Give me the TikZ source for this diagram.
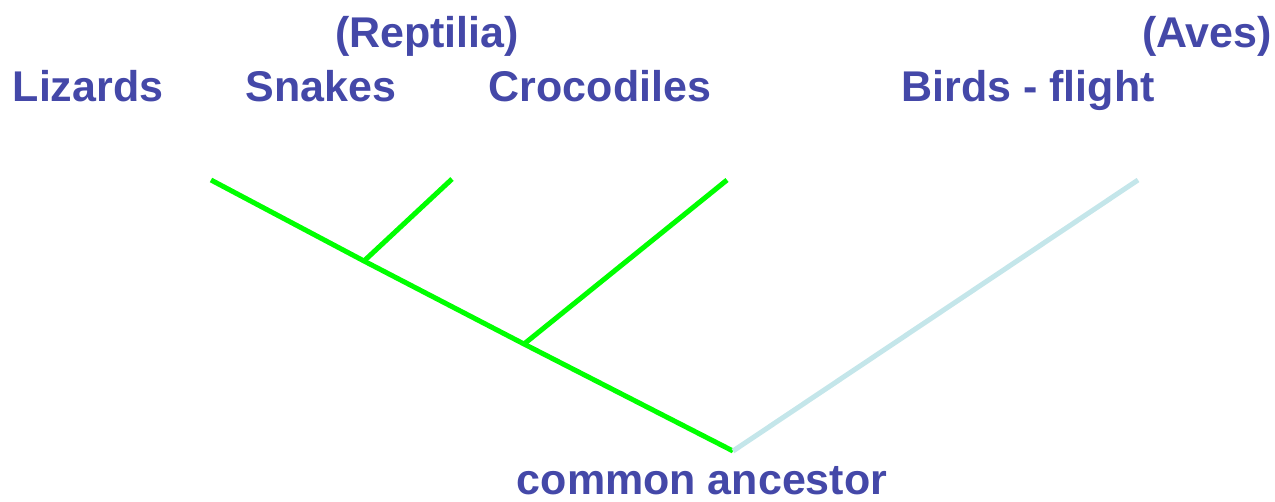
\documentclass[tikz,border=0pt]{standalone}
\usepackage{fontspec}
\setmainfont{Liberation Sans}
\definecolor{labelblue}{HTML}{4448A8}
\definecolor{branchgreen}{HTML}{00FF00}
\definecolor{birdblue}{HTML}{C4E6EA}
\begin{document}
\begin{tikzpicture}[x=1pt,y=-1pt,
  lbl/.style={inner sep=0pt,anchor=base,text=labelblue,font=\fontsize{43}{50}\selectfont\bfseries},
  green branch/.style={draw=branchgreen,line width=5pt},
  bird branch/.style={draw=birdblue,line width=5pt}]
\useasboundingbox (0,0) rectangle (1275,501);
% labels
\node[lbl] (reptilia) at (427,47) {(Reptilia)};
\node[lbl] (aves) at (1207,47) {(Aves)};
\node[lbl] (lizards) at (88,101) {Lizards};
\node[lbl] (snakes) at (321,101) {Snakes};
\node[lbl] (crocs) at (600,101) {Crocodiles};
\node[lbl] (birds) at (1028,101) {Birds - flight};
\node[lbl] (ancestor) at (702,494) {common ancestor};
% tree points
\coordinate (tL) at (211,180);
\coordinate (tS) at (452,179);
\coordinate (jS) at (364,261);
\coordinate (tC) at (727,180);
\coordinate (jC) at (524,344);
\coordinate (root) at (733,451);
\coordinate (tB) at (1138,180);
% branches
\draw[green branch] (tL) -- (jS) -- (jC) -- (root);
\draw[green branch] (jS) -- (tS);
\draw[green branch] (jC) -- (tC);
\draw[bird branch] (root) -- (tB);
\end{tikzpicture}
\end{document}
